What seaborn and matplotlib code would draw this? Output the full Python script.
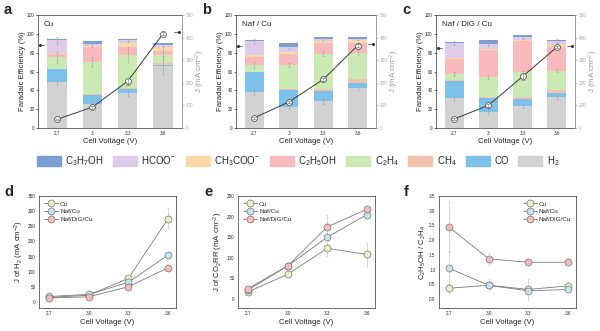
import numpy as np
import pandas as pd
import matplotlib
matplotlib.use('Agg')
import matplotlib.pyplot as plt
import seaborn as sns

sns.set_style('white')
plt.rcParams['font.family'] = ['Liberation Sans', 'DejaVu Sans']
plt.rcParams['mathtext.default'] = 'regular'

# ---- dados ----
voltagens = ['2.7', '3', '3.3', '3.6']
produtos = ['H2', 'CO', 'CH4', 'C2H4', 'C2H5OH', 'CH3COO', 'HCOO', 'C3H7OH']
rotulos = {'C3H7OH': 'C$_3$H$_7$OH', 'HCOO': 'HCOO$^{-}$', 'CH3COO': 'CH$_3$COO$^{-}$',
           'C2H5OH': 'C$_2$H$_5$OH', 'C2H4': 'C$_2$H$_4$', 'CH4': 'CH$_4$',
           'CO': 'CO', 'H2': 'H$_2$'}
cores = {'C3H7OH': '#7c9fd2', 'HCOO': '#dccbe9', 'CH3COO': '#fcd8a6',
         'C2H5OH': '#f8babd', 'C2H4': '#cbeab3', 'CH4': '#f1c3ad',
         'CO': '#7cc1ea', 'H2': '#d2d2d2'}

# FE (%) por amostra, ordem: 2.7, 3.0, 3.3, 3.6
fe_cu = {'H2': [49, 26, 37, 66], 'CO': [13.5, 9, 4, 1], 'CH4': [0.5, 1, 2, 2],
         'C2H4': [12, 34, 35, 9], 'C2H5OH': [4, 16, 8, 4], 'CH3COO': [1, 1, 4, 4],
         'HCOO': [13, 2, 3, 2], 'C3H7OH': [1, 3, 2, 2]}
fe_naf = {'H2': [38, 22, 29, 42], 'CO': [21, 18, 10, 6], 'CH4': [1, 1, 2, 4],
          'C2H4': [7, 26, 38, 28], 'C2H5OH': [8, 12, 11, 10], 'CH3COO': [3, 2, 2, 3],
          'HCOO': [14, 5, 2, 2], 'C3H7OH': [1, 4, 3, 2]}
fe_dig = {'H2': [32, 17, 23, 33], 'CO': [18, 15, 8, 4], 'CH4': [1, 1, 2, 3],
          'C2H4': [6, 21, 26, 21], 'C2H5OH': [16, 29, 33, 25], 'CH3COO': [1, 1, 1, 3],
          'HCOO': [16, 5, 4, 3], 'C3H7OH': [1, 4, 2, 1]}
# erros (aprox.) no topo de H2, C2H4 e HCOO
err_cu = {'H2': [3, 3, 3, 10], 'C2H4': [6, 5, 8, 6], 'HCOO': [4, 3, 2, 2]}
err_naf = {'H2': [3, 2, 3, 2], 'C2H4': [3, 2, 3, 3], 'HCOO': [3, 2, 2, 2]}
err_dig = {'H2': [3, 2, 2, 2], 'C2H4': [2, 2, 2, 2], 'HCOO': [2, 2, 2, 2]}

j_cu = [38, 92, 207, 418]
j_naf = [45, 115, 215, 365]
j_dig = [40, 100, 228, 358]
j_err = {'Cu': [4, 6, 15, 8], 'Naf / Cu': [4, 6, 8, 8], 'Naf / DiG / Cu': [4, 6, 14, 6]}

# painéis inferiores
v = [2.7, 3.0, 3.3, 3.6]
amostras = ['Cu', 'Naf/Cu', 'Naf/DiG/Cu']
cores_amostra = ['#eaf2c4', '#c4e3ea', '#f2bcbc']
jh2 = {'Cu': [15, 22, 78, 275], 'Naf/Cu': [18, 25, 65, 155], 'Naf/DiG/Cu': [13, 17, 50, 113]}
jh2_err = {'Cu': [3, 4, 12, 35], 'Naf/Cu': [2, 3, 6, 8], 'Naf/DiG/Cu': [2, 2, 5, 8]}
jco2 = {'Cu': [17, 60, 123, 108], 'Naf/Cu': [22, 80, 150, 205], 'Naf/DiG/Cu': [25, 80, 175, 218]}
jco2_err = {'Cu': [3, 4, 18, 30], 'Naf/Cu': [3, 4, 6, 6], 'Naf/DiG/Cu': [3, 4, 28, 6]}
razao = {'Cu': [0.37, 0.47, 0.33, 0.45], 'Naf/Cu': [1.05, 0.47, 0.28, 0.33],
         'Naf/DiG/Cu': [2.45, 1.37, 1.25, 1.25]}
razao_err = {'Cu': [0.15, 0.2, 0.35, 0.12], 'Naf/Cu': [0.6, 0.1, 0.1, 0.05],
             'Naf/DiG/Cu': [0.85, 0.2, 0.08, 0.06]}

fig = plt.figure(figsize=(6.0, 3.31), dpi=100)
W, H = 600, 331

def eixo(x0, x1, y0, y1):
    return fig.add_axes([x0 / W, 1 - y1 / H, (x1 - x0) / W, (y1 - y0) / H])

TICK = 3.3
LAB = 5.6

def painel_barras(ax, fe, err, j, titulo):
    x = np.arange(len(voltagens))
    base = np.zeros(len(voltagens))
    for p in produtos:
        vals = np.array(fe[p], dtype=float)
        ax.bar(x, vals, bottom=base, width=0.55, color=cores[p], edgecolor='none', zorder=2)
        base = base + vals
        if p in err:
            ax.errorbar(x, base, yerr=err[p], fmt='none', ecolor='#a0a0a0',
                        elinewidth=0.4, capsize=1.0, capthick=0.4, zorder=3)
    ax.set_xlim(-0.53, 3.53)
    ax.set_ylim(0, 120)
    ax.set_yticks(range(0, 121, 20))
    ax.set_xticks(x)
    ax.set_xticklabels(voltagens)
    ax.tick_params(labelsize=TICK, length=1.5, width=0.5, pad=1, direction='out')
    ax.set_xlabel('Cell Voltage (V)', fontsize=LAB, labelpad=1)
    ax.set_ylabel('Faradaic Efficiency (%)', fontsize=LAB, labelpad=1)
    ax.text(0.04, 0.95, titulo, transform=ax.transAxes, fontsize=5.8, va='top')
    for s in ax.spines.values():
        s.set_linewidth(0.5)
        s.set_color('#333333')
    # indicador do eixo esquerdo
    ax.plot([-0.47, -0.36], [base[0] - 6, base[0] - 6], color='#333333', lw=0.5)
    ax.plot([-0.47], [base[0] - 6], 'o', color='#333333', ms=1.2)

    ax2 = ax.twinx()
    df = pd.DataFrame({'x': x, 'J': j})
    ax2.errorbar(x, j, yerr=j_err[titulo], fmt='none', ecolor='#8a8a8a',
                 elinewidth=0.5, capsize=1.2, capthick=0.5, zorder=3)
    sns.lineplot(data=df, x='x', y='J', ax=ax2, color='#3a3a3a', lw=0.7,
                 marker='o', markersize=4.2, markerfacecolor='white',
                 markeredgecolor='#555555', markeredgewidth=0.6)
    ax2.plot([3.3, 3.45], [j[-1] + 5, j[-1] + 5], color='#333333', lw=0.5)
    ax2.plot([3.45], [j[-1] + 5], 'o', color='#333333', ms=1.2)
    ax2.set_ylim(0, 500)
    ax2.set_yticks(range(0, 501, 100))
    ax2.set_xlabel('')
    ax2.set_ylabel('J (mA cm$^{-2}$)', fontsize=LAB, color='#999999', labelpad=0.5)
    ax2.tick_params(labelsize=TICK, length=1.5, width=0.5, pad=1, colors='#aaaaaa')
    ax2.spines['right'].set_color('#aaaaaa')
    ax2.spines['right'].set_linewidth(0.6)
    for s in ['left', 'top', 'bottom']:
        ax2.spines[s].set_visible(False)

ax_a = eixo(38, 182, 15, 128)
ax_b = eixo(236, 376, 15, 128)
ax_c = eixo(436, 575, 15, 128)
painel_barras(ax_a, fe_cu, err_cu, j_cu, 'Cu')
painel_barras(ax_b, fe_naf, err_naf, j_naf, 'Naf / Cu')
painel_barras(ax_c, fe_dig, err_dig, j_dig, 'Naf / DiG / Cu')

# legenda comum
ordem = ['C3H7OH', 'HCOO', 'CH3COO', 'C2H5OH', 'C2H4', 'CH4', 'CO', 'H2']
handles = [plt.Rectangle((0, 0), 1, 1, color=cores[p]) for p in ordem]
fig.legend(handles, [rotulos[p] for p in ordem], loc='center', ncol=8,
           bbox_to_anchor=(298 / W, 1 - 161 / H), frameon=False, fontsize=7.0,
           handlelength=2.5, handleheight=1.25, handletextpad=0.45, columnspacing=0.95,
           borderpad=0)

def painel_linhas(ax, dados, erros, ylim, yticks, ylabel, leg_loc, fmt='{:g}'):
    for nome, cor in zip(amostras, cores_amostra):
        ax.errorbar(v, dados[nome], yerr=erros[nome], fmt='none', ecolor='#c8c8c8',
                    elinewidth=0.5, capsize=1, capthick=0.4, zorder=1)
        df = pd.DataFrame({'V': v, 'y': dados[nome]})
        sns.lineplot(data=df, x='V', y='y', ax=ax, color='#7a7a7a', lw=0.6,
                     marker='o', markersize=5, markerfacecolor=cor,
                     markeredgecolor='#777777', markeredgewidth=0.5, label=nome)
    ax.set_xlim(2.625, 3.66)
    ax.set_xticks(v)
    ax.set_xticklabels(['2.7', '3.0', '3.3', '3.6'])
    ax.set_ylim(*ylim)
    ax.set_yticks(yticks)
    ax.set_yticklabels([fmt.format(t) for t in yticks])
    ax.tick_params(labelsize=TICK, length=1.5, width=0.5, pad=1)
    ax.set_xlabel('Cell Voltage (V)', fontsize=LAB, labelpad=2)
    ax.set_ylabel(ylabel, fontsize=LAB, labelpad=1)
    for s in ax.spines.values():
        s.set_linewidth(0.5)
        s.set_color('#333333')
    ax.legend(loc=leg_loc, frameon=False, fontsize=4.6, handlelength=2.2,
              handletextpad=0.3, labelspacing=0.35, borderpad=0.3)

ax_d = eixo(39, 176, 196, 308)
ax_e = eixo(238, 375, 196, 308)
ax_f = eixo(439, 576, 196, 308)
painel_linhas(ax_d, jh2, jh2_err, (-20, 350), range(0, 351, 50),
              'J of H$_2$ (mA cm$^{-2}$)', 'upper left')
painel_linhas(ax_e, jco2, jco2_err, (-22, 250), range(0, 251, 50),
              'J of CO$_2$RR (mA cm$^{-2}$)', 'upper left')
painel_linhas(ax_f, razao, razao_err, (-0.3, 3.5), np.arange(0, 3.51, 0.5),
              'C$_2$H$_5$OH / C$_2$H$_4$', 'upper right', fmt='{:.1f}')

# letras dos painéis
for txt, x, y in [('a', 4, 10), ('b', 202, 10), ('c', 402, 10),
                  ('d', 4, 192), ('e', 204, 192), ('f', 404, 192)]:
    fig.text(x / W, 1 - y / H, txt, fontsize=10.5, fontweight='bold', va='center')

fig.savefig('out.png', dpi=100)
